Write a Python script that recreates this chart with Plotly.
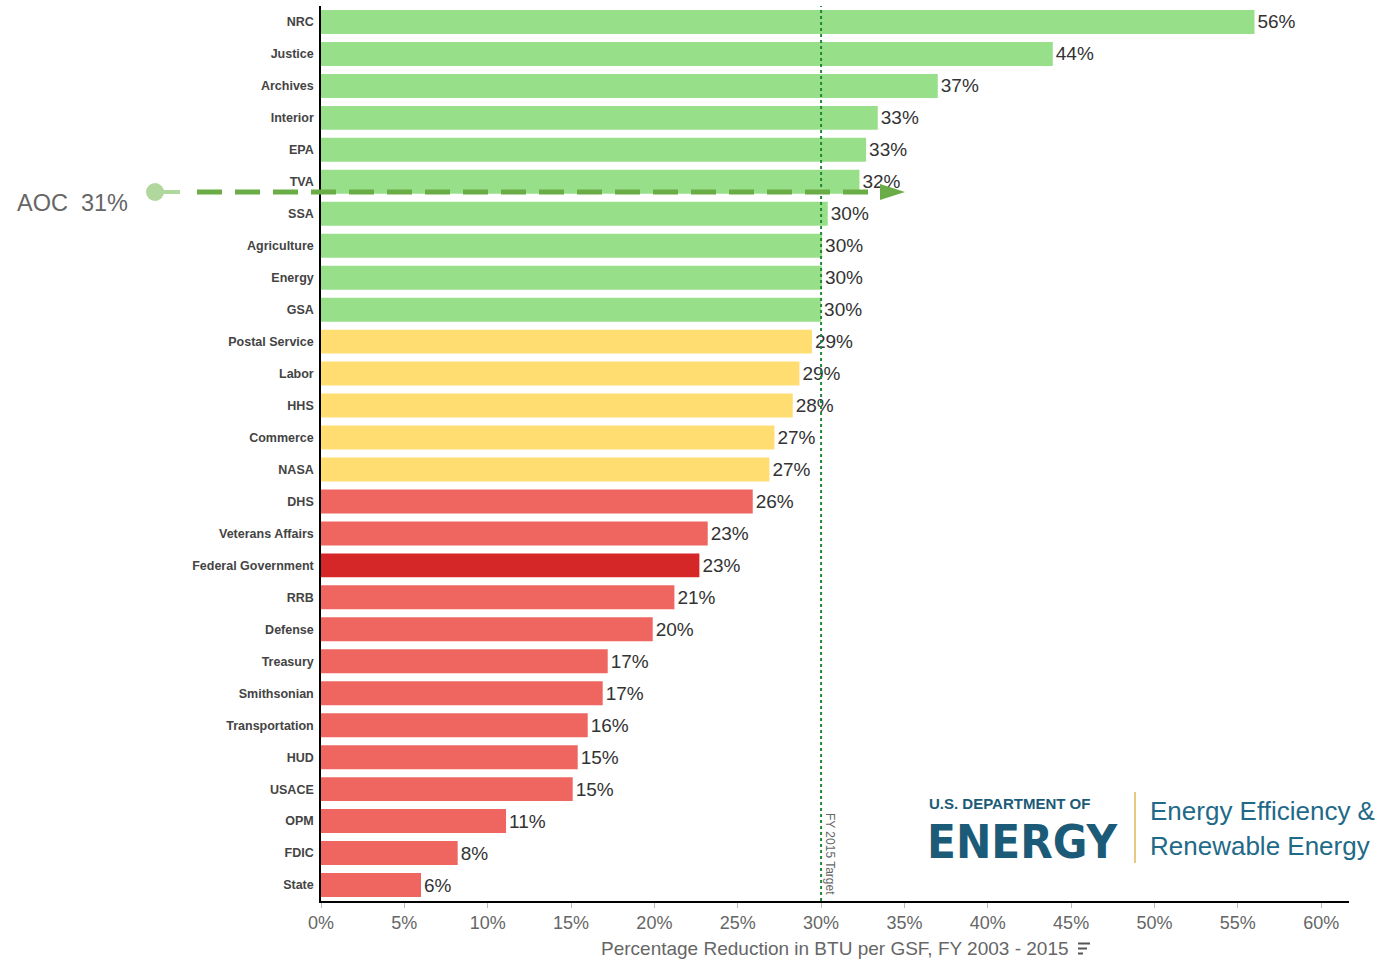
import plotly.graph_objects as go

agencies = ["NRC", "Justice", "Archives", "Interior", "EPA", "TVA", "SSA", "Agriculture",
            "Energy", "GSA", "Postal Service", "Labor", "HHS", "Commerce", "NASA", "DHS",
            "Veterans Affairs", "Federal Government", "RRB", "Defense", "Treasury",
            "Smithsonian", "Transportation", "HUD", "USACE", "OPM", "FDIC", "State"]
reductions = [56.0, 43.9, 37.0, 33.4, 32.7, 32.3, 30.4, 30.06, 30.05, 30.0, 29.45, 28.7,
              28.3, 27.2, 26.9, 25.9, 23.2, 22.7, 21.2, 19.9, 17.2, 16.9, 16.0, 15.4,
              15.1, 11.1, 8.2, 6.0]
value_labels = [56, 44, 37, 33, 33, 32, 30, 30, 30, 30, 29, 29, 28, 27, 27, 26, 23, 23,
                21, 20, 17, 17, 16, 15, 15, 11, 8, 6]
status = ["met"] * 10 + ["near"] * 5 + ["below"] * 2 + ["federal"] + ["below"] * 10
target = 30
aoc_label = "AOC  31%"
x_ticks = list(range(0, 65, 5))

status_colors = {"met": "#98df8a", "near": "#ffdd71", "below": "#ee665f", "federal": "#d62728"}
bar_colors = [status_colors[s] for s in status]

W, H = 1382, 960
L, R, T, B = 321, 33, 6, 59
PW, PH = W - L - R, H - T - B


def px(xp):
    return (xp - L) / PW


def py(yp):
    return (H - B - yp) / PH


fig = go.Figure()
fig.add_trace(go.Bar(
    x=reductions, y=agencies, orientation="h",
    marker=dict(color=bar_colors, line=dict(width=0)),
    text=[f"{v}%" for v in value_labels], textposition="outside",
    textfont=dict(family="Liberation Sans, Arial", size=19, color="#333333"),
    cliponaxis=False, hoverinfo="skip",
))

shapes = []
# target line
shapes.append(dict(type="line", xref="x", yref="paper", x0=target, x1=target, y0=0, y1=1,
                   line=dict(color="#23883a", width=2, dash="dot"), layer="above"))
# AOC marker line
yl = py(192)
shapes.append(dict(type="line", xref="paper", yref="paper", x0=px(155), x1=px(180), y0=yl, y1=yl,
                   line=dict(color="#b0d89c", width=4), layer="above"))
shapes.append(dict(type="circle", xref="paper", yref="paper",
                   x0=px(146), x1=px(164), y0=py(201), y1=py(183),
                   fillcolor="#b0d89c", line=dict(width=0), layer="above"))
shapes.append(dict(type="line", xref="paper", yref="paper", x0=px(197), x1=px(882), y0=yl, y1=yl,
                   line=dict(color="#6aac45", width=5, dash="25px,13px"), layer="above"))
shapes.append(dict(type="path", xref="paper", yref="paper",
                   path=f"M {px(880)} {py(184)} L {px(905)} {py(192)} L {px(880)} {py(200)} Z",
                   fillcolor="#6aac45", line=dict(width=0), layer="above"))
# sort icon
for (x0, x1, yy) in [(1078, 1090, 943.5), (1078, 1087, 948.5), (1078, 1083, 953.5)]:
    shapes.append(dict(type="line", xref="paper", yref="paper", x0=px(x0), x1=px(x1),
                       y0=py(yy), y1=py(yy), line=dict(color="#555555", width=2)))
# logo divider
shapes.append(dict(type="line", xref="paper", yref="paper", x0=px(1135), x1=px(1135),
                   y0=py(792), y1=py(863), line=dict(color="#e9c97f", width=2)))

annotations = [
    dict(text=aoc_label, xref="paper", yref="paper", x=px(15), y=py(203), xanchor="left",
         yanchor="middle", showarrow=False,
         font=dict(family="Liberation Sans, Arial", size=23.5, color="#666666")),
    dict(text="FY 2015 Target", xref="x", yref="paper", x=target, xshift=9, y=py(897),
         yanchor="bottom", xanchor="center", textangle=90, showarrow=False,
         font=dict(family="Liberation Sans, Arial", size=12, color="#666666")),
    dict(text="Percentage Reduction in BTU per GSF, FY 2003 - 2015", xref="paper", yref="paper",
         x=px(835), y=py(948), xanchor="center", yanchor="middle", showarrow=False,
         font=dict(family="Liberation Sans, Arial", size=19, color="#666666")),
    dict(text="<b>U.S. DEPARTMENT OF</b>", xref="paper", yref="paper", x=px(927), y=py(803),
         xanchor="left", yanchor="middle", showarrow=False,
         font=dict(family="Liberation Sans, Arial", size=15, color="#1b5b78")),
    dict(text="<b>ENERGY</b>", xref="paper", yref="paper", x=px(925), y=py(841),
         xanchor="left", yanchor="middle", showarrow=False,
         font=dict(family="DejaVu Sans Condensed, Liberation Sans", size=47, color="#1b5b78")),
    dict(text="Energy Efficiency &", xref="paper", yref="paper", x=px(1148), y=py(811),
         xanchor="left", yanchor="middle", showarrow=False,
         font=dict(family="Liberation Sans, Arial", size=26, color="#1f6a88")),
    dict(text="Renewable Energy", xref="paper", yref="paper", x=px(1148), y=py(846),
         xanchor="left", yanchor="middle", showarrow=False,
         font=dict(family="Liberation Sans, Arial", size=26, color="#1f6a88")),
]

fig.update_layout(
    width=W, height=H, margin=dict(l=L, r=R, t=T, b=B),
    paper_bgcolor="white", plot_bgcolor="white",
    bargap=0.25, showlegend=False,
    shapes=shapes, annotations=annotations,
    xaxis=dict(range=[0, 61.67], tickvals=x_ticks, ticktext=[f"{v}%" for v in x_ticks],
               showgrid=False, zeroline=False, showline=True, linecolor="#000000", linewidth=1.5,
               ticks="outside", ticklen=5, tickcolor="#bbbbbb",
               tickfont=dict(family="Liberation Sans, Arial", size=18, color="#666666")),
    yaxis=dict(autorange="reversed", showgrid=False, zeroline=False, showline=True,
               linecolor="#000000", linewidth=1.5, ticks="", ticklabelstandoff=3,
               tickfont=dict(family="Liberation Sans, Arial", size=12.5, color="#444444",
                             weight="bold")),
)

fig.write_html("out.html", config={"displayModeBar": False},
               post_script="document.body.style.margin='0px';document.body.style.padding='0px';")
